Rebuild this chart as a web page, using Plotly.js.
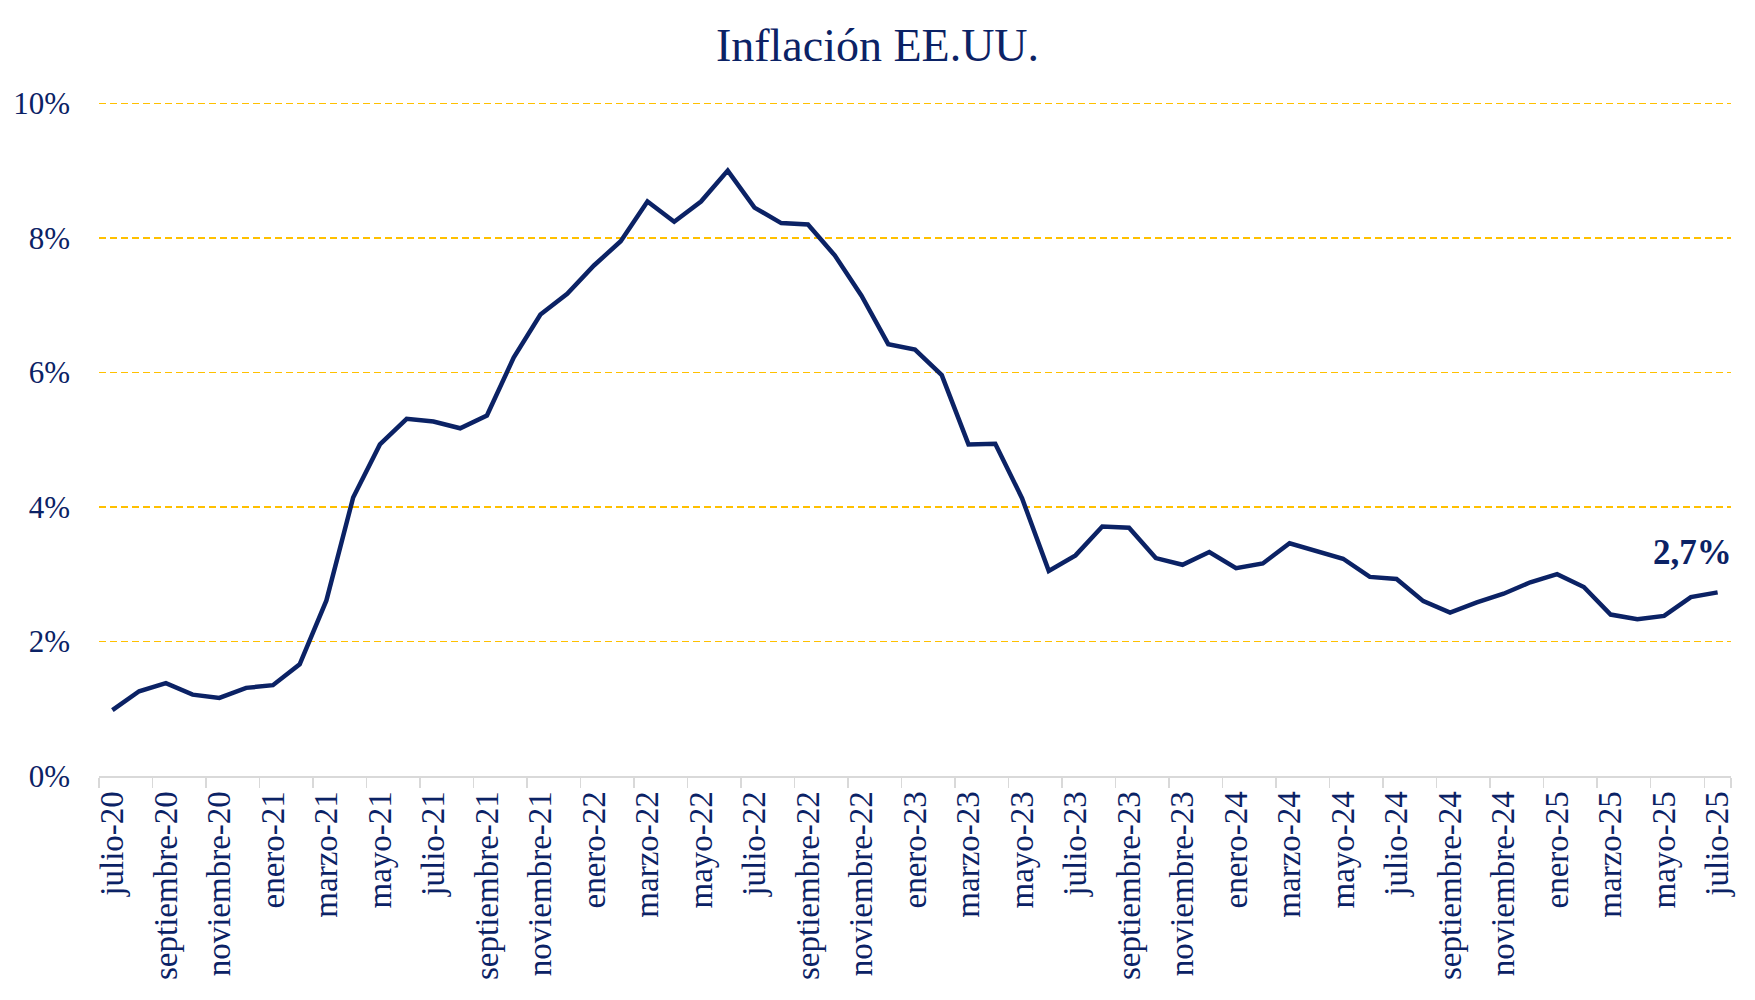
<!DOCTYPE html>
<html>
<head>
<meta charset="utf-8">
<script src="https://cdn.plot.ly/plotly-3.0.1.min.js"></script>
<style>html,body{margin:0;padding:0;background:#fff;}#chart{width:1755px;height:1000px;}</style>
</head>
<body>
<div id="chart"></div>
<script>
const monthNames = ["julio","agosto","septiembre","octubre","noviembre","diciembre","enero","febrero","marzo","abril","mayo","junio"];
const startYear = 20;
const nMonths = 61;
const inflation = [0.98,1.26,1.38,1.21,1.16,1.31,1.35,1.66,2.61,4.14,4.93,5.31,5.27,5.17,5.36,6.22,6.86,7.17,7.59,7.95,8.54,8.24,8.54,9.00,8.45,8.22,8.20,7.74,7.14,6.42,6.34,5.96,4.93,4.94,4.13,3.05,3.28,3.71,3.69,3.24,3.14,3.33,3.09,3.16,3.46,3.34,3.23,2.96,2.93,2.60,2.43,2.58,2.71,2.88,3.00,2.81,2.40,2.33,2.38,2.66,2.73];
const lastLabel = "2,7%";
const yTickVals = [0,2,4,6,8,10];
const yTickText = ["0%","2%","4%","6%","8%","10%"];

const categories = [];
for (let i = 0; i < nMonths; i++) {
  const m = monthNames[i % 12];
  const yr = startYear + Math.floor((i + 6) / 12);
  categories.push(m + "-" + yr);
}
const xTickVals = categories.filter((c, i) => i % 2 === 0);

const navy = "#0b2265";
const font = "Liberation Serif, Times New Roman, serif";

const trace = {
  x: categories, y: inflation, type: "scatter", mode: "lines",
  line: {color: "#0b2265", width: 4.5},
  hoverinfo: "skip"
};

const layout = {
  width: 1755, height: 1000,
  margin: {l: 99, r: 24, t: 100, b: 224},
  paper_bgcolor: "#fff", plot_bgcolor: "#fff",
  showlegend: false,
  font: {family: font, color: navy},
  title: {text: "Inflación EE.UU.", x: 0.5, xanchor: "center", y: 0.955, yanchor: "middle",
          font: {family: font, size: 46, color: navy}},
  xaxis: {
    type: "category", range: [-0.5, nMonths - 0.5],
    tickmode: "array", tickvals: xTickVals, ticktext: xTickVals,
    tickson: "boundaries", ticks: "outside", ticklen: 10, tickcolor: "#d9d9d9", tickwidth: 1.5,
    showline: true, linecolor: "#d9d9d9", linewidth: 2,
    showgrid: false, tickangle: -90,
    tickfont: {family: font, size: 33, color: navy},
    fixedrange: true
  },
  yaxis: {
    range: [0, 10.05], tickmode: "array", tickvals: yTickVals, ticktext: yTickText,
    showgrid: true, gridcolor: "#FFC000", gridwidth: 1.5, griddash: "7px,4px",
    zeroline: false, showline: false, ticks: "",
    ticklabelstandoff: 28,
    tickfont: {family: font, size: 31, color: navy},
    fixedrange: true
  },
  annotations: [{
    x: categories[nMonths - 2], y: inflation[nMonths - 1], xref: "x", yref: "y",
    text: "<b>" + lastLabel + "</b>", showarrow: false,
    xanchor: "center", yanchor: "bottom", yshift: 18, xshift: 2,
    font: {family: font, size: 35, color: navy}
  }]
};

Plotly.newPlot("chart", [trace], layout, {staticPlot: true, displayModeBar: false});
</script>
</body>
</html>
